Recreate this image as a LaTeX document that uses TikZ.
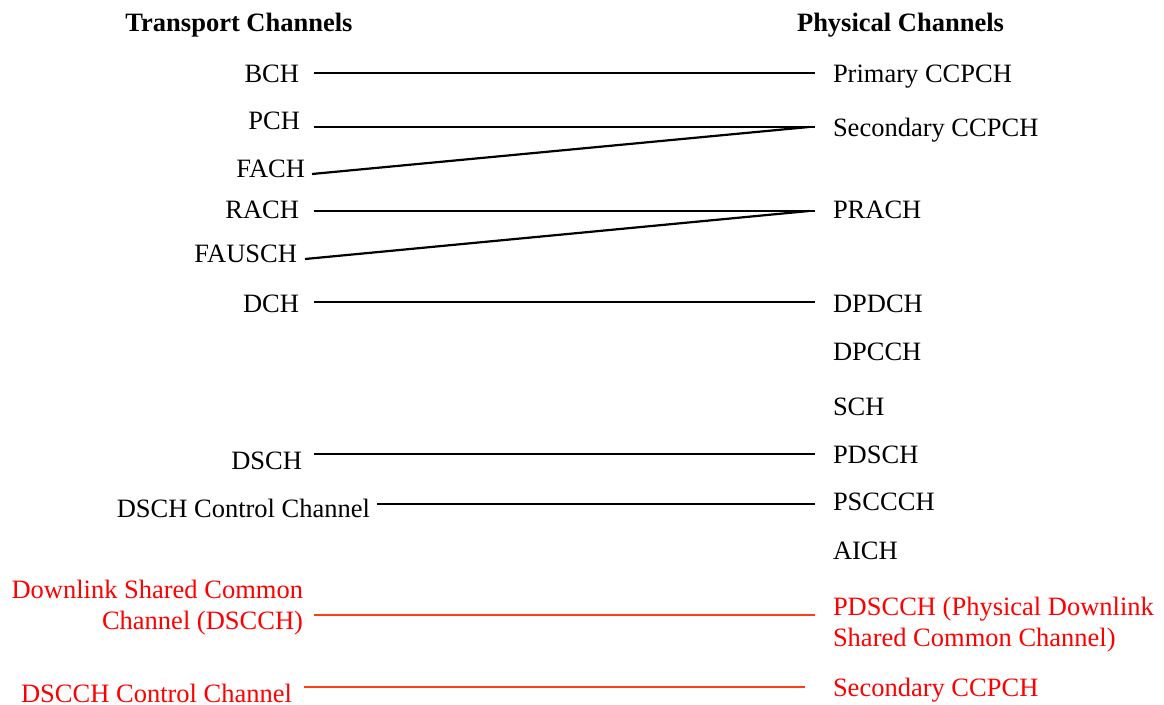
\documentclass[tikz,border=0pt]{standalone}
\usepackage{fontspec}
\setmainfont{Liberation Serif}
\definecolor{txtred}{RGB}{255,0,0}
\definecolor{linered}{RGB}{255,60,20}
\begin{document}
\begin{tikzpicture}[x=1pt,y=-1pt,
  every node/.style={inner sep=0pt,outer sep=0pt,font=\fontsize{26.5pt}{31pt}\selectfont},
  lab/.style={text height=17.5pt,text depth=0pt},
  ttl/.style={lab,font=\fontsize{26.5pt}{31pt}\selectfont\bfseries},
  lft/.style={lab,anchor=east},
  rgt/.style={lab,anchor=west},
  link/.style={draw=black,line width=2.2pt},
  redlink/.style={draw=linered,line width=2.4pt},
  redtxt/.style={text=txtred}]
\useasboundingbox (0,0) rectangle (1164,704);
% titles
\node[ttl] (tt) at (239,22.5) {Transport Channels};
\node[ttl] (pt) at (900.5,22.5) {Physical Channels};
% transport channels
\node[lft] (BCH) at (299,73.5) {BCH};
\node[lft] (PCH) at (300,121) {PCH};
\node[lft] (FACH) at (305,169) {FACH};
\node[lft] (RACH) at (299,210) {RACH};
\node[lft] (FAUSCH) at (297,254) {FAUSCH};
\node[lft] (DCH) at (299,303.5) {DCH};
\node[lft] (DSCH) at (302,460.5) {DSCH};
\node[lft] (DSCHCC) at (370,509) {DSCH Control Channel};
\node[redtxt,align=right,anchor=base east] (DSCCH) at (303,629.75) {Downlink Shared Common\\Channel (DSCCH)};
\node[lft,redtxt] (DSCCHCC) at (292,693.5) {DSCCH Control Channel};
% physical channels
\node[rgt] (PCCPCH) at (833,73.5) {Primary CCPCH};
\node[rgt] (SCCPCH) at (833,127.5) {Secondary CCPCH};
\node[rgt] (PRACH) at (833,210) {PRACH};
\node[rgt] (DPDCH) at (833,303.5) {DPDCH};
\node[rgt] (DPCCH) at (833,352) {DPCCH};
\node[rgt] (SCH) at (833,406.5) {SCH};
\node[rgt] (PDSCH) at (833,454.5) {PDSCH};
\node[rgt] (PSCCCH) at (833,502) {PSCCCH};
\node[rgt] (AICH) at (833,550.5) {AICH};
\node[redtxt,align=left,anchor=base west] (PDSCCH) at (833,646.75) {PDSCCH (Physical Downlink\\Shared Common Channel)};
\node[rgt,redtxt] (SCCPCH2) at (833,688) {Secondary CCPCH};
% connectors
\draw[link] ([shift={(15,-0.5)}]BCH.east) -- ([shift={(-18,-0.5)}]PCCPCH.west);
\draw[link] ([shift={(14,6)}]PCH.east) -- ([shift={(-18,-0.5)}]SCCPCH.west);
\draw[link] ([shift={(7,5)}]FACH.east) -- ([shift={(-24,-0.5)}]SCCPCH.west);
\draw[link] ([shift={(15,1)}]RACH.east) -- ([shift={(-18,1)}]PRACH.west);
\draw[link] ([shift={(8,5)}]FAUSCH.east) -- ([shift={(-24,1)}]PRACH.west);
\draw[link] ([shift={(15,-1.5)}]DCH.east) -- ([shift={(-18,-1.5)}]DPDCH.west);
\draw[link] ([shift={(12,-6.5)}]DSCH.east) -- ([shift={(-18,-0.5)}]PDSCH.west);
\draw[link] ([shift={(7,-5)}]DSCHCC.east) -- ([shift={(-18,2)}]PSCCCH.west);
\draw[redlink] ([shift={(11,-14.75)}]DSCCH.base east) -- ([shift={(-18,-31.75)}]PDSCCH.base west);
\draw[redlink] ([shift={(12,-6.5)}]DSCCHCC.east) -- ([shift={(-28,-1)}]SCCPCH2.west);
\end{tikzpicture}
\end{document}
